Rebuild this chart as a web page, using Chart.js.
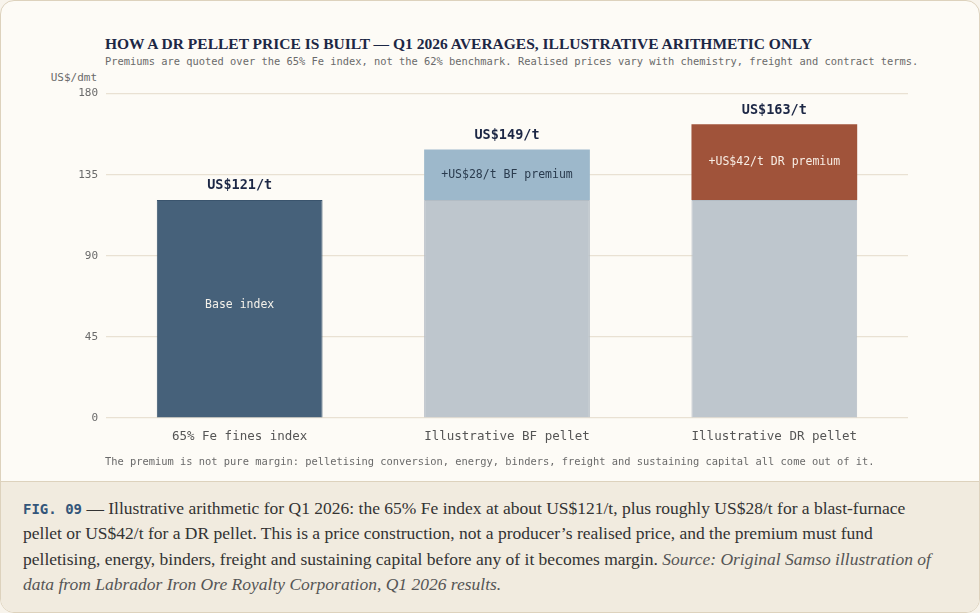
<!DOCTYPE html>
<html>
<head>
<meta charset="utf-8">
<script src="https://cdn.jsdelivr.net/npm/chart.js@4.4.1/dist/chart.umd.min.js"></script>
<style>
  html, body { margin: 0; padding: 0; background: #f8f4ec; }
  .card {
    position: absolute; left: 0; top: 0; width: 978px; height: 611px;
    border: 1px solid #ddd2bd; border-radius: 14px; background: #fdfbf6; overflow: hidden;
  }
  .title {
    position: absolute; left: 104px; top: 34px; margin: 0;
    font: bold 15.5px "Liberation Serif", serif; color: #1c2745; white-space: nowrap;
  }
  .sub {
    position: absolute; left: 104px; top: 54px;
    font: 10.4px "DejaVu Sans Mono", monospace; color: #6a6a6a; white-space: nowrap;
  }
  .unit {
    position: absolute; right: 882px; top: 70px;
    font: 11px "DejaVu Sans Mono", monospace; color: #6a6a6a; white-space: nowrap;
  }
  .note {
    position: absolute; left: 104px; top: 454px;
    font: 10.4px "DejaVu Sans Mono", monospace; color: #6a6a6a; white-space: nowrap;
  }
  #wrap { position: absolute; left: 0; top: 78px; width: 978px; height: 382px; }
  .caption {
    position: absolute; left: 0; top: 480px; width: 978px; height: 140px;
    background: #f1ebdf; border-top: 1px solid #ddd2bd;
  }
  .caption p {
    margin: 0; position: absolute; left: 22px; top: 14px; white-space: nowrap;
    font: 17.5px/25.3px "Liberation Serif", serif; color: #333;
  }
  .fig { font: bold 14px "DejaVu Sans Mono", monospace; color: #34567a; }
  .src { font-style: italic; color: #555; }
</style>
</head>
<body>
<div class="card">
  <h1 class="title">HOW A DR PELLET PRICE IS BUILT — Q1 2026 AVERAGES, ILLUSTRATIVE ARITHMETIC ONLY</h1>
  <div class="sub">Premiums are quoted over the 65% Fe index, not the 62% benchmark. Realised prices vary with chemistry, freight and contract terms.</div>
  <div class="unit">US$/dmt</div>
  <div id="wrap"><canvas id="chart"></canvas></div>
  <div class="note">The premium is not pure margin: pelletising conversion, energy, binders, freight and sustaining capital all come out of it.</div>
  <div class="caption"><p><span class="fig">FIG. 09</span> — Illustrative arithmetic for Q1 2026: the 65% Fe index at about US$121/t, plus roughly US$28/t for a blast-furnace<br>pellet or US$42/t for a DR pellet. This is a price construction, not a producer’s realised price, and the premium must fund<br>pelletising, energy, binders, freight and sustaining capital before any of it becomes margin. <span class="src">Source: Original Samso illustration of<br>data from Labrador Iron Ore Royalty Corporation, Q1 2026 results.</span></p></div>
</div>
<script>
const categorias = ["65% Fe fines index", "Illustrative BF pellet", "Illustrative DR pellet"];
const base = [121, 121, 121];
const premium = [0, 28, 42];
const totales = ["US$121/t", "US$149/t", "US$163/t"];
const etiquetasBase = ["Base index", "", ""];
const etiquetasPremium = ["", "+US$28/t BF premium", "+US$42/t DR premium"];
const ticksY = [0, 45, 90, 135, 180];

const MONO = '"DejaVu Sans Mono", monospace';

// etiquetas dentro y encima de las barras
const etiquetas = {
  id: "etiquetas",
  afterDatasetsDraw(chart) {
    const ctx = chart.ctx;
    const metaBase = chart.getDatasetMeta(0);
    const metaPrem = chart.getDatasetMeta(1);
    ctx.save();
    ctx.textAlign = "center";
    ctx.textBaseline = "middle";
    categorias.forEach((c, i) => {
      const b = metaBase.data[i];
      const p = metaPrem.data[i];
      if (etiquetasBase[i]) {
        ctx.font = "11.5px " + MONO;
        ctx.fillStyle = "#f4f1ea";
        ctx.fillText(etiquetasBase[i], b.x, (b.y + b.base) / 2 - 4);
      }
      if (etiquetasPremium[i]) {
        ctx.font = "11.5px " + MONO;
        ctx.fillStyle = i === 2 ? "#f7ede4" : "#2a3b4e";
        ctx.fillText(etiquetasPremium[i], p.x, (p.y + p.base) / 2);
      }
      const top = premium[i] ? p.y : b.y;
      ctx.font = "bold 13.5px " + MONO;
      ctx.fillStyle = "#1c2745";
      ctx.fillText(totales[i], b.x, top - 14);
    });
    ctx.restore();
  },
};

new Chart(document.getElementById("chart").getContext("2d"), {
  type: "bar",
  data: {
    labels: categorias,
    datasets: [
      {
        label: "Base",
        data: base,
        backgroundColor: ["#46617a", "#bec6cd", "#bec6cd"],
        borderColor: ["#3a546d", "#b3bcc4", "#b3bcc4"],
        borderWidth: 1,
        categoryPercentage: 1,
        barPercentage: 0.62,
      },
      {
        label: "Premium",
        data: premium,
        backgroundColor: ["rgba(0,0,0,0)", "#9db8cb", "#a0533a"],
        borderWidth: 0,
        categoryPercentage: 1,
        barPercentage: 0.62,
      },
    ],
  },
  options: {
    responsive: true,
    maintainAspectRatio: false,
    animation: false,
    layout: { padding: { left: 45, right: 71, top: 11, bottom: 3 } },
    plugins: {
      legend: { display: false },
      tooltip: { enabled: false },
    },
    scales: {
      x: {
        stacked: true,
        grid: { display: false },
        border: { display: false },
        ticks: { color: "#555", font: { family: MONO, size: 12.5 }, padding: 3 },
        afterFit: (s) => { s.height = 40; },
      },
      y: {
        stacked: true,
        min: 0,
        max: 180,
        afterBuildTicks: (s) => { s.ticks = ticksY.map((v) => ({ value: v })); },
        grid: { color: "#e9e1d3", lineWidth: 1.2, drawTicks: false },
        border: { display: false },
        ticks: { color: "#6a6a6a", font: { family: MONO, size: 11 }, padding: 8 },
        afterFit: (s) => { s.width = 60; },
      },
    },
  },
  plugins: [etiquetas],
});
</script>
</body>
</html>
